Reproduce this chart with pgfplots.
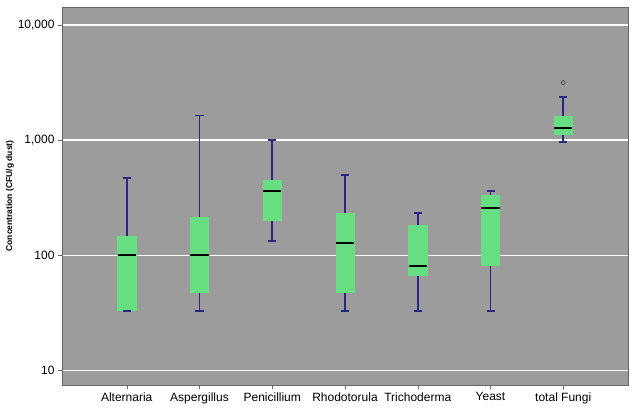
\documentclass[border=0pt]{standalone}
\usepackage{pgfplots}
\pgfplotsset{compat=1.18}
\usetikzlibrary{calc}
\usepackage{fontspec}
\setmainfont{Liberation Sans}
\definecolor{bg}{RGB}{156,156,156}
\definecolor{boxg}{RGB}{104,222,130}
\definecolor{wnavy}{RGB}{40,40,128}
% #1 position, #2 lower whisker, #3 Q1, #4 median, #5 Q3, #6 upper whisker
\newcommand\bx[6]{%
  \pgfmathsetmacro\bxl{#1-0.125}\pgfmathsetmacro\bxr{#1+0.125}%
  \pgfmathsetmacro\bcl{#1-0.055}\pgfmathsetmacro\bcr{#1+0.055}%
  \edef\bxtmp{%
    \noexpand\addplot[draw=wnavy, line width=1.9pt, line cap=butt] coordinates {(#1,#2) (#1,#6)};
    \noexpand\addplot[draw=boxg, fill=boxg, line width=0.4pt] coordinates {(\bxl,#3) (\bxr,#3) (\bxr,#5) (\bxl,#5)} --cycle;
    \noexpand\addplot[draw=wnavy, line width=1.6pt] coordinates {(\bcl,#2) (\bcr,#2)};
    \noexpand\addplot[draw=wnavy, line width=1.6pt] coordinates {(\bcl,#6) (\bcr,#6)};
    \noexpand\addplot[draw=black, line width=2pt] coordinates {(\bxl,#4) (\bxr,#4)};
  }%
  \bxtmp}
\begin{document}
\begin{tikzpicture}
\begin{axis}[
  scale only axis, width=566pt, height=378pt,
  ymode=log, ymin=7.5, ymax=14300,
  xmin=0.11, xmax=7.89,
  xtick={1,2,3,4,5,6,7},
  xticklabels={Alternaria,Aspergillus,Penicillium,Rhodotorula,Trichoderma,Yeast,total Fungi},
  ytick={10,100,1000,10000}, yticklabels={10,100,{1,000},{10,000}},
  yminorticks=false,
  axis background/.style={fill=bg},
  ymajorgrids, major grid style={white, line width=1.4pt},
  tick label style={font=\fontsize{12}{14}\selectfont, text=black},
  ylabel={Concentration (CFU/g dust)},
  every axis y label/.style={at={(axis description cs:-0.092,0.5)}, rotate=90, anchor=center, font=\bfseries\fontsize{8.5}{10}\selectfont},
  tick align=outside, major tick length=4pt, tick style={black!60},
  xtick pos=bottom, ytick pos=left,
  axis line style={black!60},
]
\bx{1}{33}{33.6}{100}{147}{467}
\bx{2}{33}{47.6}{100}{214}{1640}
\bx{3}{133}{200}{365}{446}{1000}
\bx{4}{33}{47.6}{128}{232}{499}
\bx{5}{33}{66.7}{81.3}{181}{232}
\bx{6}{33}{82}{257}{331}{363}
\bx{7}{966}{1132}{1277}{1610}{2360}
\addplot[only marks, mark=o, mark size=2pt, mark options={draw=black!75, line width=0.6pt}] coordinates {(7,3160)};
\end{axis}
\pgfresetboundingbox
\path ($(current axis.south west)+(-62pt,-32pt)$) rectangle ($(current axis.north east)+(7pt,7pt)$);
\end{tikzpicture}
\end{document}
